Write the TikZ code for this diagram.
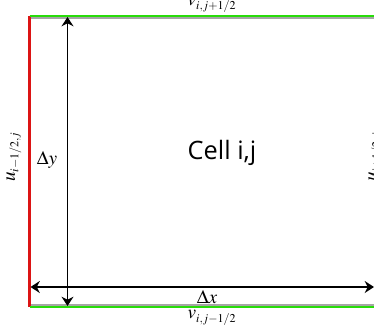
\documentclass[tikz,border=0pt]{standalone}
\usepackage{mathptmx}
\usepackage{fontspec}
\newfontfamily\cellfont{Open Sans}
\definecolor{facegreen}{RGB}{40, 220, 10}
\definecolor{facered}{RGB}{220, 20, 20}
\usetikzlibrary{arrows.meta}
\newcommand\facelab[2]{{\Large$#1$}{\large$_{#2}$}}

\begin{document}
\begin{tikzpicture}[
    x=0.75pt, y=-0.75pt,
    uface/.style={line width=2.2pt, facered},
    vface/.style={line width=2.2pt, facegreen},
    edge/.style={line width=0.8pt, gray!70},
    dim/.style={line width=1.3pt, {Stealth[length=7pt,width=9pt]}-{Stealth[length=7pt,width=9pt]}},
    lab/.style={font=\Large, inner sep=1pt}
]
\useasboundingbox (0,0) rectangle (374,333);

% Cell corners
\coordinate (nw) at (29.5,16);
\coordinate (ne) at (374,16);
\coordinate (sw) at (29.5,307);
\coordinate (se) at (374,307);
\coordinate (nwin) at (29.5,18);
\coordinate (nein) at (374,18);
\coordinate (swin) at (29.5,305);
\coordinate (sein) at (374,305);

% Faces
\draw [edge] (nwin) -- (nein);
\draw [edge] (swin) -- (sein);
\draw [uface] (nw) -- (sw);
\draw [vface] (nw) -- (ne);
\draw [vface] (sw) -- (se);

% Dimensions
\coordinate (ytop) at (67.5,17);
\coordinate (ybot) at (67.5,306);
\coordinate (xleft) at (30.5,287);
\coordinate (xright) at (374,287);
\draw [dim] (ytop) -- (ybot);
\draw [dim] (xleft) -- (xright);

% Labels
\node [lab] (dy) at (47,160) {$\Delta y$};
\node [lab] (dx) at (207,297) {$\Delta x$};
\node [lab] (vn) at (212,5) {\facelab{v}{i,j+1/2}};
\node [lab] (vs) at (212,318) {\facelab{v}{i,j-1/2}};
\node [lab, rotate=90] (uw) at (14,157) {\facelab{u}{i-1/2,j}};
\node [lab, rotate=90] (ue) at (376,157) {\facelab{u}{i+1/2,j}};
\node [font=\cellfont\fontsize{19}{22}\selectfont] (cell) at (222,153) {Cell i,j};

\end{tikzpicture}
\end{document}
